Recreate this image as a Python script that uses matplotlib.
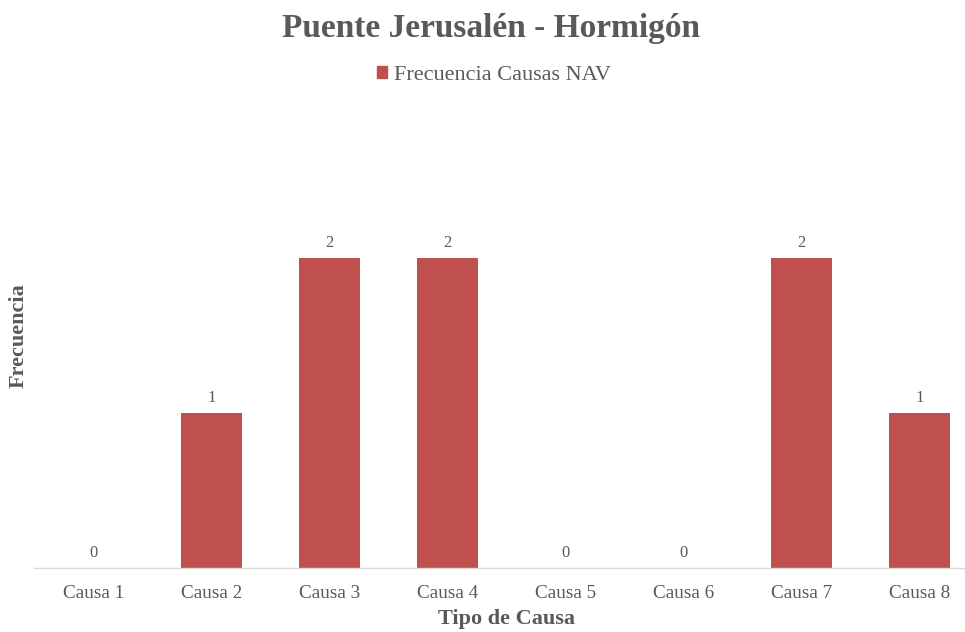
import matplotlib.pyplot as plt
from matplotlib.patches import Patch

causas = ['Causa 1', 'Causa 2', 'Causa 3', 'Causa 4', 'Causa 5', 'Causa 6', 'Causa 7', 'Causa 8']
frecuencia = [0, 1, 2, 2, 0, 0, 2, 1]

plt.rcParams['font.family'] = ['Liberation Serif', 'DejaVu Serif']
gris = '#595959'
rojo = '#C0504D'

fig = plt.figure(figsize=(9.65, 6.32), dpi=100)
ax = fig.add_axes([34.5 / 965, 64 / 632, 944 / 965, 387.5 / 632])

x = range(len(causas))
barras = ax.bar(x, frecuencia, width=0.52, color=rojo, label='Frecuencia Causas NAV')
for xi, v in zip(x, frecuencia):
    ax.annotate(str(v), (xi, v), xytext=(0, 5), textcoords='offset points',
                ha='center', va='bottom', fontsize=12, color=gris)

ax.set_xlim(-0.5, len(causas) - 0.5)
ax.set_ylim(0, 2.5)
ax.set_xticks(list(x))
ax.set_xticklabels(causas, fontsize=13.8, color=gris)
ax.tick_params(axis='x', length=0, pad=12)
ax.set_yticks([])
for lado in ['top', 'right', 'left']:
    ax.spines[lado].set_visible(False)
ax.spines['bottom'].set_color('#D9D9D9')
ax.spines['bottom'].set_linewidth(1)

ax.set_xlabel('Tipo de Causa', fontsize=16, fontweight='bold', color=gris, labelpad=5)
fig.text(19 / 965, 1 - 335.5 / 632, 'Frecuencia', rotation=90, ha='center', va='center',
         fontsize=16, fontweight='bold', color=gris)

fig.text(491 / 965, 1 - 28 / 632, 'Puente Jerusalén - Hormigón', ha='center', va='center',
         fontsize=24, fontweight='bold', color=gris)

fig.legend(handles=[Patch(color=rojo, label='Frecuencia Causas NAV')],
           loc='center', bbox_to_anchor=(494 / 965, 1 - 75 / 632), frameon=False,
           fontsize=16, handlelength=0.45, handleheight=0.45, handletextpad=0.3,
           labelcolor=gris)

fig.savefig('out.png', dpi=100)
